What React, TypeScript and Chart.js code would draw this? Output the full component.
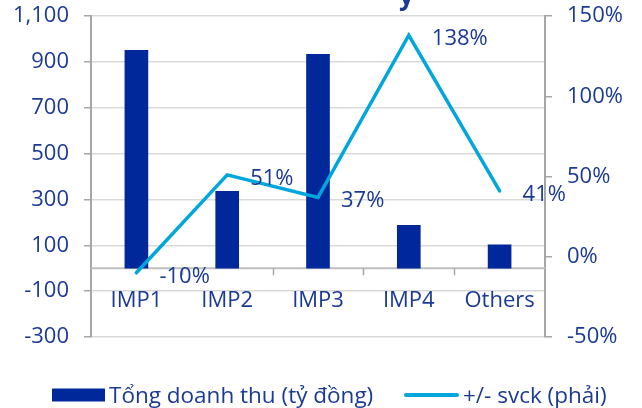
import React, { useEffect, useRef } from "react";
import { Chart, registerables } from "chart.js";

Chart.register(...registerables);

const categories = ["IMP1", "IMP2", "IMP3", "IMP4", "Others"];
const revenue = [950, 335, 933, 187, 102];
const growth = [-10, 51, 37, 138, 41];
const leftTicks = [-300, 1100, 200];
const rightTicks = [-50, 150, 50];
const legendLabels = ["Tổng doanh thu (tỷ đồng)", "+/- svck (phải)"];

const NAVY = "#00289a";
const CYAN = "#00a6dc";
const TEXT = "#1b3a96";
const FONT = "'Open Sans', sans-serif";

const fmtNum = (v: number) => v.toLocaleString("en-US");

const overlayPlugin = {
  id: "overlay",
  beforeDatasetsDraw(chart: any) {
    const { ctx, chartArea } = chart;
    const x = chart.scales.x;
    const y = chart.scales.y;
    const y0 = y.getPixelForValue(0);
    ctx.save();
    ctx.strokeStyle = "#bfbfbf";
    ctx.lineWidth = 2;
    ctx.beginPath();
    ctx.moveTo(chartArea.left, y0);
    ctx.lineTo(chartArea.right, y0);
    ctx.stroke();
    ctx.strokeStyle = "#a6a6a6";
    ctx.lineWidth = 1.5;
    for (let i = 1; i < categories.length; i++) {
      const bx = (x.getPixelForValue(i - 1) + x.getPixelForValue(i)) / 2;
      ctx.beginPath();
      ctx.moveTo(Math.round(bx) + 0.5, y0);
      ctx.lineTo(Math.round(bx) + 0.5, y0 + 7);
      ctx.stroke();
    }
    ctx.restore();
  },
  afterDatasetsDraw(chart: any) {
    const { ctx } = chart;
    const x = chart.scales.x;
    const y = chart.scales.y;
    const y1 = chart.scales.y1;
    const y0 = y.getPixelForValue(0);
    ctx.save();
    ctx.fillStyle = TEXT;
    ctx.font = `22px ${FONT}`;
    ctx.textAlign = "center";
    ctx.textBaseline = "alphabetic";
    categories.forEach((c, i) => {
      ctx.fillText(c, x.getPixelForValue(i), y0 + 39);
    });
    ctx.textAlign = "left";
    growth.forEach((g, i) => {
      const px = x.getPixelForValue(i);
      const py = y1.getPixelForValue(g);
      ctx.fillText(`${g}%`, px + 23, py + 10);
    });
    const ly = 395;
    ctx.fillStyle = NAVY;
    ctx.fillRect(52, ly - 6.5, 53, 13);
    ctx.fillStyle = TEXT;
    ctx.font = `22.5px ${FONT}`;
    ctx.fillText(legendLabels[0], 109, ly + 8);
    ctx.strokeStyle = CYAN;
    ctx.lineWidth = 4;
    ctx.lineCap = "round";
    ctx.beginPath();
    ctx.moveTo(406, ly);
    ctx.lineTo(457, ly);
    ctx.stroke();
    ctx.fillText(legendLabels[1], 463, ly + 8);
    ctx.font = `bold 26px ${FONT}`;
    ctx.fillText("y", 399, 5);
    ctx.restore();
  },
};

export default function App() {
  const ref = useRef<HTMLCanvasElement | null>(null);
  useEffect(() => {
    if (!ref.current) return;
    const chart = new Chart(ref.current, {
      type: "bar",
      data: {
        labels: categories,
        datasets: [
          {
            type: "bar",
            label: legendLabels[0],
            data: revenue,
            backgroundColor: NAVY,
            yAxisID: "y",
            barThickness: 23,
            order: 1,
          } as any,
          {
            type: "line",
            label: legendLabels[1],
            data: growth,
            borderColor: CYAN,
            backgroundColor: CYAN,
            borderWidth: 3.5,
            pointRadius: 0,
            tension: 0,
            borderCapStyle: "round",
            borderJoinStyle: "miter",
            yAxisID: "y1",
            order: 0,
          } as any,
        ],
      },
      options: {
        animation: false,
        responsive: false,
        maintainAspectRatio: false,
        layout: { padding: { top: 16, bottom: 71, left: 0, right: 0 } },
        plugins: { legend: { display: false }, tooltip: { enabled: false } },
        scales: {
          x: { display: false, offset: true },
          y: {
            position: "left",
            min: leftTicks[0],
            max: leftTicks[1],
            ticks: {
              stepSize: leftTicks[2],
              color: TEXT,
              font: { family: FONT, size: 22 },
              padding: 15,
              callback: (v: any) => fmtNum(Number(v)),
            },
            grid: {
              color: "#d9d9d9",
              lineWidth: 1.5,
              tickColor: "#a6a6a6",
              tickLength: 7,
            },
            border: { display: true, color: "#a6a6a6", width: 2 },
            afterFit: (s: any) => {
              s.width = 91;
              s.paddingTop = 0;
              s.paddingBottom = 0;
            },
          },
          y1: {
            position: "right",
            min: rightTicks[0],
            max: rightTicks[1],
            ticks: {
              stepSize: rightTicks[2],
              color: TEXT,
              font: { family: FONT, size: 22 },
              padding: 15,
              callback: (v: any) => `${v}%`,
            },
            grid: {
              drawOnChartArea: false,
              tickColor: "#a6a6a6",
              tickLength: 7,
              lineWidth: 1.5,
            },
            border: { display: true, color: "#a6a6a6", width: 2 },
            afterFit: (s: any) => {
              s.width = 97;
              s.paddingTop = 0;
              s.paddingBottom = 0;
            },
          },
        },
      } as any,
      plugins: [overlayPlugin],
    });
    return () => chart.destroy();
  }, []);
  return (
    <div style={{ position: "absolute", left: 0, top: 0, width: 642, height: 408, background: "#fff" }}>
      <canvas ref={ref} width={642} height={408} style={{ display: "block", width: 642, height: 408 }} />
    </div>
  );
}
